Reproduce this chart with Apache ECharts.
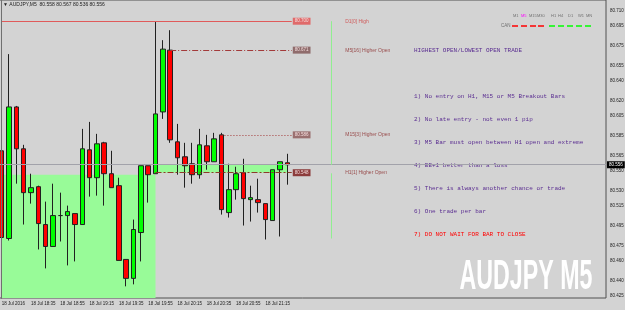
<!DOCTYPE html>
<html>
<head>
<meta charset="utf-8">
<script src="https://cdn.jsdelivr.net/npm/echarts/dist/echarts.min.js"></script>
<style>
html, body { margin: 0; padding: 0; background: #d3d3d3; }
#chart { width: 625px; height: 310px; }
</style>
</head>
<body>
<div id="chart"></div>
<script>
// M5 bars, 18 Jul 2016
var times = ['18:15', '18:20', '18:25', '18:30', '18:35', '18:40', '18:45', '18:50', '18:55', '19:00',
    '19:05', '19:10', '19:15', '19:20', '19:25', '19:30', '19:35', '19:40', '19:45', '19:50',
    '19:55', '20:00', '20:05', '20:10', '20:15', '20:20', '20:25', '20:30', '20:35', '20:40',
    '20:45', '20:50', '20:55', '21:00', '21:05', '21:10', '21:15', '21:20', '21:25', '21:30'];
var openP = [80.570, 80.482, 80.614, 80.572, 80.528, 80.534, 80.496, 80.474, 80.505, 80.505,
    80.507, 80.496, 80.571, 80.543, 80.578, 80.547, 80.535, 80.461, 80.442, 80.488,
    80.555, 80.547, 80.609, 80.671, 80.579, 80.564, 80.557, 80.546, 80.575, 80.559,
    80.586, 80.508, 80.531, 80.548, 80.521, 80.521, 80.517, 80.500, 80.551, 80.558];
var closeP = [80.483, 80.614, 80.572, 80.528, 80.533, 80.497, 80.474, 80.505, 80.505, 80.509,
    80.496, 80.572, 80.543, 80.577, 80.547, 80.533, 80.460, 80.442, 80.491, 80.555,
    80.546, 80.607, 80.672, 80.581, 80.563, 80.555, 80.546, 80.576, 80.559, 80.582,
    80.511, 80.531, 80.547, 80.522, 80.523, 80.518, 80.501, 80.551, 80.559, 80.556];
var lowP = [80.477, 80.480, 80.537, 80.496, 80.517, 80.471, 80.452, 80.474, 80.479, 80.455,
    80.459, 80.496, 80.524, 80.525, 80.515, 80.533, 80.460, 80.434, 80.436, 80.459,
    80.518, 80.547, 80.602, 80.578, 80.546, 80.533, 80.537, 80.542, 80.551, 80.559,
    80.506, 80.503, 80.521, 80.495, 80.499, 80.508, 80.481, 80.500, 80.484, 80.536];
var highP = [80.581, 80.667, 80.615, 80.576, 80.547, 80.535, 80.519, 80.537, 80.528, 80.515,
    80.507, 80.592, 80.599, 80.587, 80.579, 80.570, 80.543, 80.461, 80.501, 80.555,
    80.555, 80.700, 80.681, 80.691, 80.597, 80.578, 80.578, 80.592, 80.586, 80.588,
    80.588, 80.557, 80.554, 80.562, 80.535, 80.542, 80.517, 80.551, 80.559, 80.567];

var yTicks = [80.710, 80.695, 80.675, 80.655, 80.640, 80.620, 80.605, 80.585, 80.565,
    80.550, 80.530, 80.515, 80.495, 80.475, 80.460, 80.440, 80.425];

// levels drawn by the indicator
var levelNames = ['D1[0] High', 'M5[16] Higher Open', 'M15[3] Higher Open', 'H1[1] Higher Open'];
var levelValues = [80.700, 80.671, 80.586, 80.548];
var levelStart = [0, 23, 30, 21];
var bidPrice = 80.556;
var prevHourTop = 80.546;

var yMin = 80.4223, yMax = 80.7213;
var nSlots = 83;  // bars + empty space to the right

var cats = times.slice();
while (cats.length < nSlots) cats.push('');

var candles = [];
for (var i = 0; i < times.length; i++) {
    candles.push([openP[i], closeP[i], lowP[i], highP[i]]);
}

var myChart = echarts.init(document.getElementById('chart'));

var lineColors = ['#e05a5a', '#a33a3a', '#a33a3a', '#8c3a2a'];
var lineTypes = ['solid', [6, 2, 1, 2], [1, 2], [6, 2, 2, 2]];
var boxColors = ['#e06a6a', '#8f6c6c', '#9a7070', '#8c3c3c'];
var nameColors = ['#d04040', '#8b2a2a', '#8b2a2a', '#8b2a2a'];

var levelLines = [];
var levelLabels = [];
for (var k = 0; k < levelValues.length; k++) {
    levelLines.push([
        {coord: [levelStart[k], levelValues[k]], lineStyle: {color: lineColors[k], type: lineTypes[k]},
            label: {backgroundColor: boxColors[k], formatter: levelValues[k].toFixed(3)}},
        {coord: [39.6, levelValues[k]]}
    ]);
    levelLabels.push({name: levelNames[k], value: [46.9, levelValues[k]], label: {color: nameColors[k]}});
}
// current bid line across the whole chart
levelLines.push([
    {coord: [-0.5, bidPrice], lineStyle: {color: '#a2a2aa', type: 'solid'},
        label: {backgroundColor: '#000', color: '#fff', distance: 1, formatter: bidPrice.toFixed(3)}},
    {coord: [82.5, bidPrice]}
]);
// next hour marker
var vLines = [
    [{coord: [45, 80.700]}, {coord: [45, bidPrice]}],
    [{coord: [45, 80.5474]}, {coord: [45, 80.482]}]
];

var rules = [
    {t: 'HIGHEST OPEN/LOWEST OPEN TRADE', y: 50, c: '#5a2d91'},
    {t: '1) No entry on H1, M15 or M5 Breakout Bars', y: 96, c: '#5a2d91'},
    {t: '2) No late entry - not even 1 pip', y: 119, c: '#5a2d91'},
    {t: '3) M5 Bar must open between H1 open and extreme', y: 142, c: '#5a2d91'},
    {t: '4) BE+1 better than a loss', y: 165, c: '#5a2d91'},
    {t: '5) There is always another chance or trade', y: 188, c: '#5a2d91'},
    {t: '6) One trade per bar', y: 211, c: '#5a2d91'},
    {t: '7) DO NOT WAIT FOR BAR TO CLOSE', y: 234, c: '#ff0000'}
];
var tfNames = ['M1', 'M5', 'M15', 'M30', 'H1', 'H4', 'D1', 'W1', 'MN'];
var tfX = [513, 521, 529, 537, 551, 558, 568, 578, 586];
var dashX = [512, 521, 530, 538, 549, 558, 567, 576, 585];

var graphics = [
    {type: 'line', shape: {x1: 1.5, y1: 0, x2: 1.5, y2: 298}, style: {stroke: '#707070', lineWidth: 1}, z: 10},
    {type: 'text', x: 3, y: 5, style: {text: '\u25BC AUDJPY,M5  80.558 80.567 80.536 80.556', font: '5px "Liberation Sans"', fill: '#202020', textVerticalAlign: 'middle'}},
    {type: 'text', x: 501, y: 26, style: {text: 'CAN', font: '4.5px "Liberation Sans"', fill: '#707070', textVerticalAlign: 'middle'}},
    {type: 'text', x: 526, y: 277, scaleX: 0.54, style: {text: 'AUDJPY M5', font: 'bold 43px "Liberation Sans"', fill: '#ffffff', textAlign: 'center', textVerticalAlign: 'middle'}, z: 20}
];
rules.forEach(function (r) {
    graphics.push({type: 'text', x: 414, y: r.y, style: {text: r.t, font: '6px "Liberation Mono"', fill: r.c, textVerticalAlign: 'middle'}});
});
tfNames.forEach(function (n, j) {
    graphics.push({type: 'text', x: tfX[j], y: 16, style: {text: n, font: '4px "Liberation Sans"', fill: n === 'M5' ? '#ff00ff' : '#707070', textVerticalAlign: 'middle'}});
    graphics.push({type: 'line', shape: {x1: dashX[j], y1: 26, x2: dashX[j] + 6, y2: 26}, style: {stroke: j < 4 ? '#ff0000' : '#00ff00', lineWidth: 1.5}});
});

myChart.setOption({
    animation: false,
    backgroundColor: '#d3d3d3',
    grid: {left: -1.97, right: 19, top: 0, bottom: 12, show: true, borderColor: '#505050', borderWidth: 1,
        outerBoundsMode: 'none', containLabel: false},
    xAxis: [{
        type: 'category',
        data: cats,
        boundaryGap: true,
        axisLine: {show: false},
        axisTick: {show: false},
        splitLine: {show: false},
        axisLabel: {
            interval: 0,
            align: 'left',
            margin: 3,
            fontSize: 4.5,
            fontFamily: 'Liberation Sans',
            color: '#202020',
            formatter: function (val, idx) {
                if (idx >= times.length || idx % 4 !== 0) return '';
                return idx === 0 ? '18 Jul 2016' : '18 Jul ' + val;
            }
        }
    }, {
        type: 'value', min: -0.5, max: nSlots - 0.5, show: false
    }],
    yAxis: {
        type: 'value',
        position: 'right',
        min: yMin,
        max: yMax,
        scale: true,
        splitLine: {show: false},
        axisLine: {show: true, lineStyle: {color: '#505050'}},
        axisTick: {show: false},
        axisLabel: {
            customValues: yTicks,
            margin: 4,
            fontSize: 4.5,
            fontFamily: 'Liberation Sans',
            color: '#202020',
            formatter: function (v) { return v.toFixed(3); }
        }
    },
    graphic: graphics,
    series: [{
        type: 'line',
        xAxisIndex: 1,
        data: [],
        z: 1,
        silent: true,
        markArea: {
            silent: true,
            itemStyle: {color: '#98fb98'},
            data: [
                [{coord: [0, prevHourTop]}, {coord: [21, yMin]}],
                [{coord: [21, levelValues[3]]}, {coord: [39, bidPrice]}]
            ]
        }
    }, {
        type: 'candlestick',
        data: candles,
        barWidth: 5,
        z: 3,
        itemStyle: {
            color: '#00ff00',
            color0: '#ff0000',
            borderColor: '#202020',
            borderColor0: '#202020',
            borderWidth: 1
        }
    }, {
        type: 'line',
        xAxisIndex: 1,
        data: [],
        z: 4,
        silent: true,
        markLine: {
            silent: true,
            symbol: ['none', 'none'],
            lineStyle: {width: 1},
            label: {
                show: true,
                position: 'end',
                distance: 1,
                fontSize: 4.5,
                fontFamily: 'Liberation Sans',
                color: '#f4dede',
                padding: [1, 2]
            },
            data: levelLines
        }
    }, {
        type: 'line',
        xAxisIndex: 1,
        data: [],
        z: 2,
        silent: true,
        markLine: {
            silent: true,
            symbol: ['none', 'none'],
            lineStyle: {width: 1, color: '#90ee90', type: 'solid'},
            label: {show: false},
            data: vLines
        }
    }, {
        type: 'scatter',
        xAxisIndex: 1,
        symbolSize: 0,
        silent: true,
        data: levelLabels,
        label: {
            show: true,
            position: 'right',
            distance: 0,
            fontSize: 5,
            fontFamily: 'Liberation Sans',
            formatter: '{b}'
        }
    }]
});
</script>
</body>
</html>
